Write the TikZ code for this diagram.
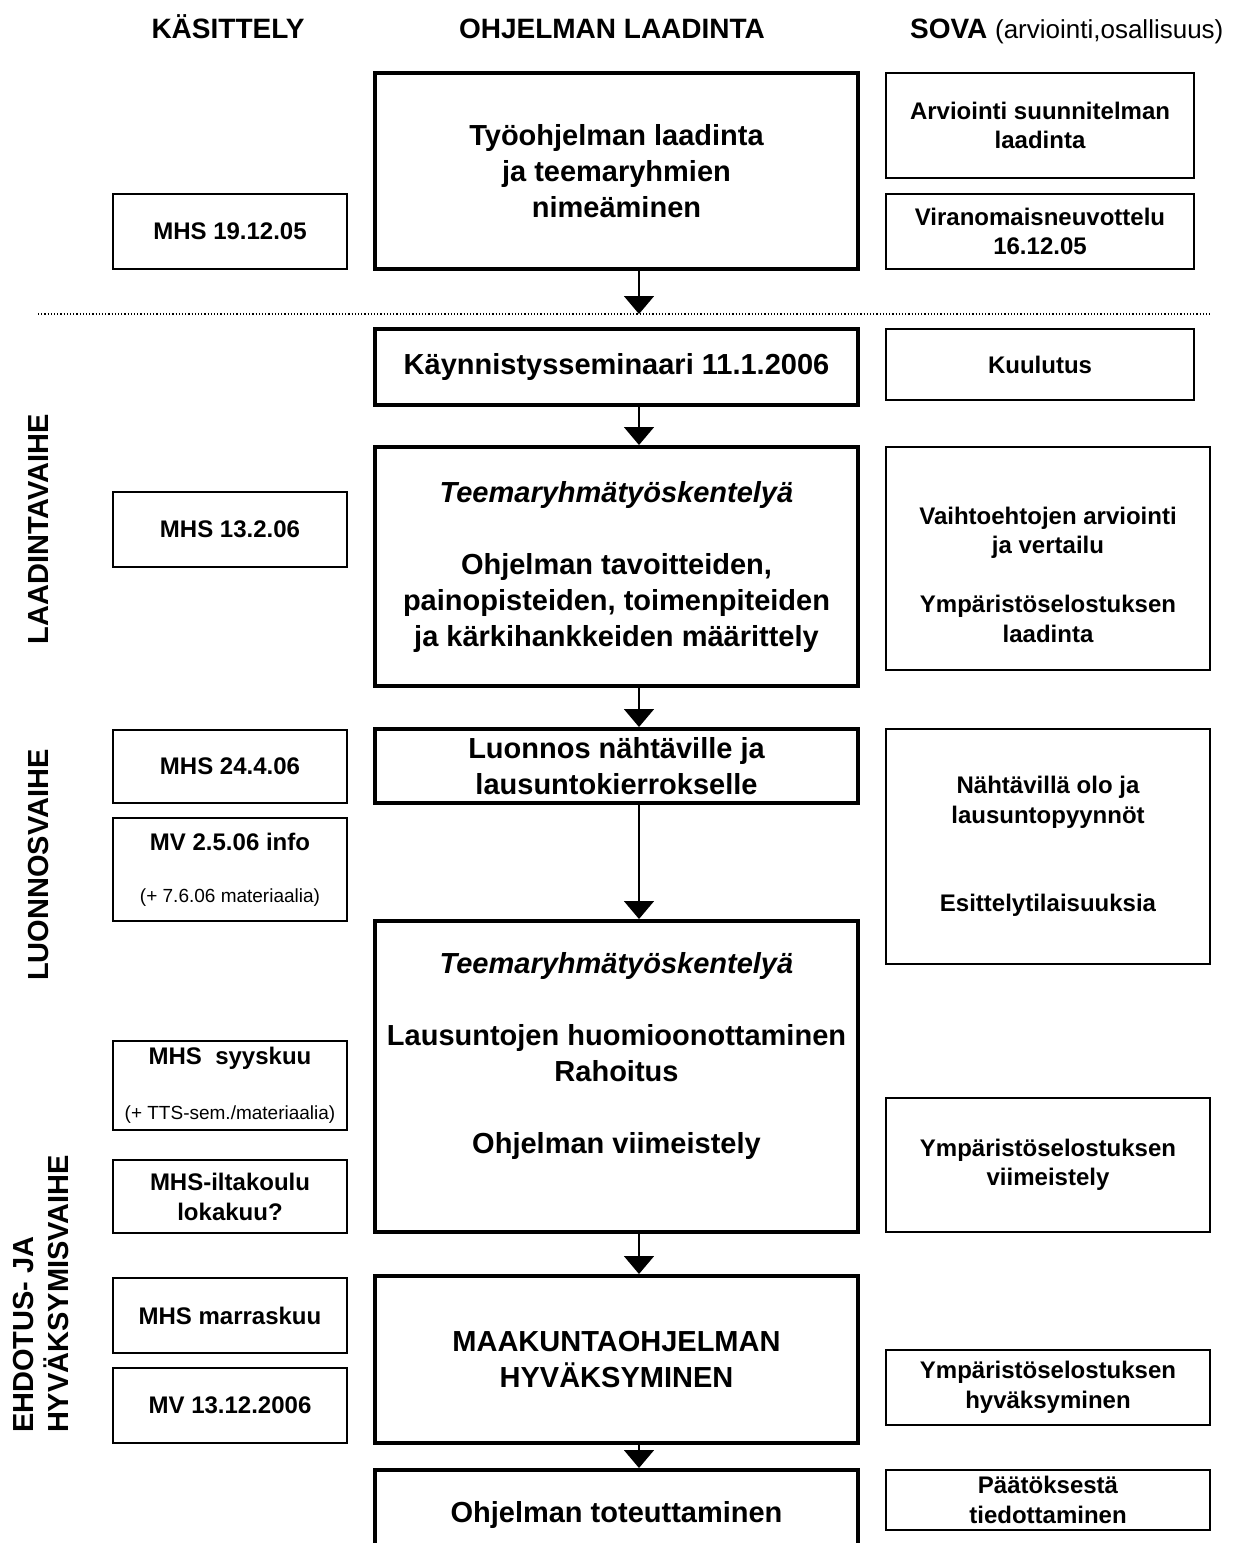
\documentclass[tikz,border=0pt]{standalone}
\usepackage{fontspec}
\setmainfont{Liberation Sans}
\usetikzlibrary{arrows.meta}
\newcommand{\smalltxt}[1]{{\mdseries\fontsize{9.5}{11}\selectfont #1}}
\tikzset{
  mainbox/.style = {draw, line width=2pt, align=center, inner sep=0pt,
    minimum width=241.5pt, font=\bfseries\fontsize{14.5}{18}\selectfont},% ohjelman laadinta
  datebox/.style = {draw, line width=1pt, align=center, inner sep=0pt,
    minimum width=117pt, font=\bfseries\fontsize{12}{15}\selectfont},% kasittely
  sovabox/.style = {draw, line width=1pt, align=center, inner sep=0pt,
    minimum width=162pt, font=\bfseries\fontsize{12}{14.75}\selectfont},% sova
  sovatop/.style = {sovabox, minimum width=154pt},
  colhead/.style = {anchor=base, font=\bfseries\fontsize{14}{17}\selectfont},
  phase/.style = {rotate=90, align=left, font=\bfseries\fontsize{14.5}{17.5}\selectfont},
  flow/.style = {line width=0.8pt, -{Triangle[width=15pt,length=9pt]}},
  dotline/.style = {line width=0.6pt, densely dotted}
}
\begin{document}
\begin{tikzpicture}[x=0.5pt, y=-0.5pt]
  \useasboundingbox (0,0) rectangle (1237,1543);
  \clip (0,0) rectangle (1237,1543);
  % column heads
  \node [colhead] (hkas) at (228,38) {KÄSITTELY};
  \node [colhead] (hohj) at (612,38) {OHJELMAN LAADINTA};
  \node [colhead, anchor=base west] (hsova) at (903,38)
    {SOVA {\mdseries\fontsize{13}{15}\selectfont(arviointi,osallisuus)}};
  % phases
  \node [phase] (laad) at (39,529) {LAADINTAVAIHE};
  \node [phase] (luonv) at (39,865) {LUONNOSVAIHE};
  \node [phase, anchor=west] (ehd) at (41,1440) {EHDOTUS- JA\\HYVÄKSYMISVAIHE};
  \coordinate (dotL) at (38,314);
  \coordinate (dotR) at (1210,314);
  \draw [dotline] (dotL) -- (dotR);
  % ohjelman laadinta
  \node [mainbox, minimum height=98pt] (tyo) at (616.5,171)
    {Työohjelman laadinta\\ja teemaryhmien\\nimeäminen};
  \node [mainbox, minimum height=38pt] (kayn) at (616.5,367)
    {Käynnistysseminaari 11.1.2006};
  \node [mainbox, minimum height=119.5pt] (teema1) at (616.5,566.5)
    {\textit{Teemaryhmätyöskentelyä}\\[18pt]Ohjelman tavoitteiden,\\
     painopisteiden, toimenpiteiden\\ja kärkihankkeiden määrittely};
  \node [mainbox, minimum height=37pt] (luon) at (616.5,766)
    {Luonnos nähtäville ja\\lausuntokierrokselle};
  \node [mainbox, minimum height=155.5pt] (teema2) at (616.5,1076.5)
    {\textit{Teemaryhmätyöskentelyä}\\[18pt]Lausuntojen huomioonottaminen\\
     Rahoitus\\[18pt]Ohjelman viimeistely\\\strut};
  \node [mainbox, minimum height=83.5pt] (maak) at (616.5,1359.5)
    {MAAKUNTAOHJELMAN\\HYVÄKSYMINEN};
  \node [mainbox, minimum height=45pt] (tot) at (616.5,1515)
    {Ohjelman toteuttaminen};
  % kasittely
  \node [datebox, minimum height=37.5pt] (mhs1) at (230,231.5) {MHS 19.12.05};
  \node [datebox, minimum height=37.5pt] (mhs2) at (230,529.5) {MHS 13.2.06};
  \node [datebox, minimum height=36.5pt] (mhs3) at (230,766.5) {MHS 24.4.06};
  \node [datebox, minimum height=51.5pt] (mv1) at (230,869.5)
    {MV 2.5.06 info\\[11pt]\smalltxt{(+ 7.6.06 materiaalia)}};
  \node [datebox, minimum height=44.5pt] (mhs4) at (230,1085.5)
    {MHS~ syyskuu\\[12.5pt]\smalltxt{(+ TTS-sem./materiaalia)}};
  \node [datebox, minimum height=36.5pt] (ilta) at (230,1196.5)
    {MHS-iltakoulu\\lokakuu?};
  \node [datebox, minimum height=37.5pt] (marr) at (230,1315.5) {MHS marraskuu};
  \node [datebox, minimum height=37.5pt] (mv2) at (230,1405.5) {MV 13.12.2006};
  % sova
  \node [sovatop, minimum height=52.5pt] (arv) at (1040,125.5)
    {Arviointi suunnitelman\\laadinta};
  \node [sovatop, minimum height=37.5pt] (vira) at (1040,231.5)
    {Viranomaisneuvottelu\\16.12.05};
  \node [sovatop, minimum height=35.5pt] (kuul) at (1040,364.5) {Kuulutus};
  \node [sovabox, minimum height=111.5pt] (vaiht) at (1048,558.5)
    {\strut\\Vaihtoehtojen arviointi\\ja vertailu\\[14.75pt]Ympäristöselostuksen\\laadinta};
  \node [sovabox, minimum height=117.5pt] (naht) at (1048,846.5)
    {Nähtävillä olo ja\\lausuntopyynnöt\\[29.5pt]Esittelytilaisuuksia};
  \node [sovabox, minimum height=67pt] (viim) at (1048,1165)
    {Ympäristöselostuksen\\viimeistely};
  \node [sovabox, minimum height=37.5pt] (hyvy) at (1048,1387.5)
    {Ympäristöselostuksen\\hyväksyminen};
  \node [sovabox, minimum height=30pt] (paat) at (1048,1500)
    {Päätöksestä\\tiedottaminen};
  % arrows
  \coordinate (axis) at (639,0);
  \draw [flow] (tyo.south -| axis) -- (dotL -| axis);
  \draw [flow] (kayn.south -| axis) -- (teema1.north -| axis);
  \draw [flow] (teema1.south -| axis) -- (luon.north -| axis);
  \draw [flow] (luon.south -| axis) -- (teema2.north -| axis);
  \draw [flow] (teema2.south -| axis) -- (maak.north -| axis);
  \draw [flow] (maak.south -| axis) -- (tot.north -| axis);
\end{tikzpicture}
\end{document}
